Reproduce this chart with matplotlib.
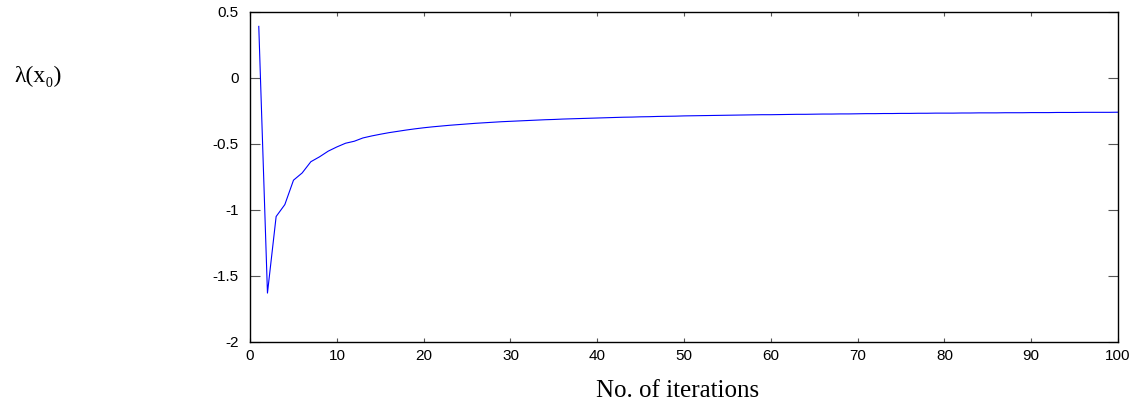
import numpy as np
import matplotlib.pyplot as plt

# lambda(x0) estimate after each iteration
iterations = list(range(1, 101))
lam = [
    0.39, -1.63, -1.05, -0.96, -0.775, -0.72, -0.635, -0.598, -0.555, -0.523,
    -0.495, -0.48, -0.455, -0.44, -0.427, -0.415, -0.405, -0.395, -0.386, -0.378,
    -0.371, -0.365, -0.359, -0.354, -0.349, -0.344, -0.340, -0.336, -0.332, -0.329,
    -0.326, -0.323, -0.320, -0.317, -0.315, -0.312, -0.310, -0.308, -0.306, -0.304,
    -0.302, -0.300, -0.298, -0.297, -0.295, -0.294, -0.292, -0.291, -0.290, -0.288,
    -0.287, -0.286, -0.285, -0.284, -0.283, -0.282, -0.281, -0.280, -0.279, -0.279,
    -0.278, -0.277, -0.276, -0.276, -0.275, -0.274, -0.274, -0.273, -0.273, -0.272,
    -0.271, -0.271, -0.270, -0.270, -0.269, -0.269, -0.268, -0.268, -0.267, -0.267,
    -0.267, -0.266, -0.266, -0.265, -0.265, -0.265, -0.264, -0.264, -0.264, -0.263,
    -0.263, -0.263, -0.262, -0.262, -0.262, -0.261, -0.261, -0.261, -0.261, -0.260,
]

xticks = [0, 10, 20, 30, 40, 50, 60, 70, 80, 90, 100]
yticks = [-2, -1.5, -1, -0.5, 0, 0.5]
ytick_labels = ["-2", "-1.5", "-1", "-0.5", "0", "0.5"]

fig = plt.figure(figsize=(11.42, 4.09), dpi=100)
ax = fig.add_axes([0.219, 0.164, 0.76, 0.807])

ax.plot(iterations, lam, color="#0000ff", linewidth=0.8)

ax.set_xlim(0, 100)
ax.set_ylim(-2, 0.5)
ax.set_xticks(xticks)
ax.set_yticks(yticks)
ax.set_yticklabels(ytick_labels)

for s in ax.spines.values():
    s.set_linewidth(1.0)
    s.set_color("black")

ax.tick_params(axis="x", direction="in", top=True, length=3, width=0.8,
               color="#555555", pad=5, labelsize=11)
ax.tick_params(axis="y", direction="in", right=True, length=7.5, width=0.8,
               color="#555555", pad=8, labelsize=11)
for lbl in ax.get_xticklabels() + ax.get_yticklabels():
    lbl.set_family("Liberation Sans")

fig.text(0.593, 0.044, "No. of iterations", ha="center", va="center",
         fontsize=18, family=["Liberation Serif", "DejaVu Serif"])
fig.text(0.033, 0.812, "λ(x₀)", ha="center", va="center",
         fontsize=17, family=["Liberation Serif", "DejaVu Serif"])

fig.savefig("out.png", dpi=100)
